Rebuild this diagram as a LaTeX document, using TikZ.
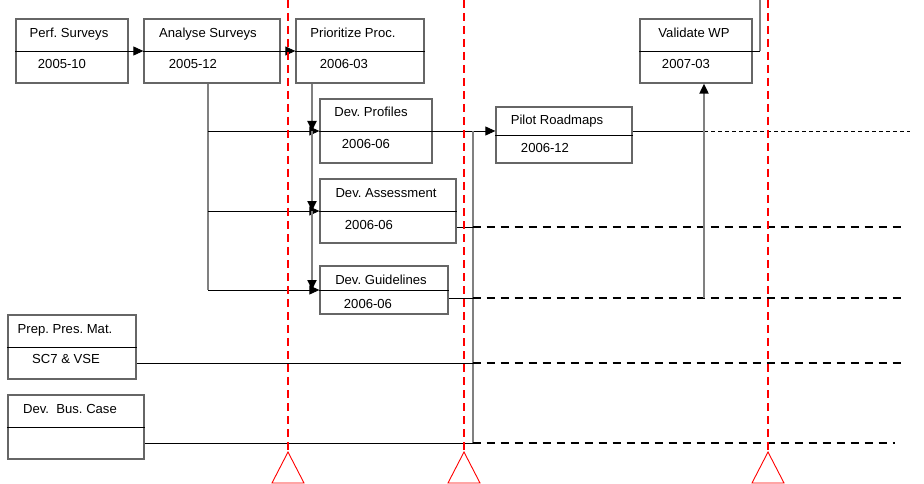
\documentclass[tikz,border=0pt]{standalone}
\usepackage{fontspec}
\setmainfont{Liberation Sans}
\usetikzlibrary{arrows.meta,calc}
\frenchspacing

\tikzset{
  box/.style={draw=black!60, line width=1.3pt, inner sep=0pt},
  lbl/.style={anchor=base, inner sep=0pt, font=\fontsize{13.1}{15}\selectfont},
  link/.style={black, line width=0.9pt},
  stem/.style={draw=black!50, line width=2pt},
  arr/.style={-{Triangle[length=10pt,width=9pt,color=black]}},
  ddash/.style={black, line width=1.8pt, dash pattern=on 8pt off 6pt},
  fdash/.style={black, line width=0.9pt, dash pattern=on 4pt off 3pt},
  milestone/.style={red, line width=1.8pt, dash pattern=on 8pt off 5pt},
  flag/.style={red, line width=0.9pt},
}

\begin{document}
\begin{tikzpicture}[x=1pt,y=-1pt]
\useasboundingbox (0,0) rectangle (924,484);

\node[box, minimum width=112, minimum height=64] (perf) at (72,51) {};
\node[box, minimum width=136, minimum height=64] (analyse) at (212,51) {};
\node[box, minimum width=128, minimum height=64] (prio) at (360,51) {};
\node[box, minimum width=112, minimum height=64] (prof) at (376,131) {};
\node[box, minimum width=136, minimum height=56] (pilot) at (564,135) {};
\node[box, minimum width=112, minimum height=64] (valid) at (696,51) {};
\node[box, minimum width=136, minimum height=64] (assess) at (388,211) {};
\node[box, minimum width=128, minimum height=48] (guide) at (384,290) {};
\node[box, minimum width=128, minimum height=64] (prep) at (72,347) {};
\node[box, minimum width=136, minimum height=64] (bus) at (76,427) {};

\draw[link] (perf.west) -- (perf.east);
\draw[link] (analyse.west) -- (analyse.east);
\draw[link] (prio.west) -- (prio.east);
\draw[link] (prof.west) -- (prof.east);
\draw[link] (pilot.west) -- (pilot.east);
\draw[link] (valid.west) -- (valid.east);
\draw[link] (assess.west) -- (assess.east);
\draw[link] (guide.west) -- (guide.east);
\draw[link] (prep.west) -- (prep.east);
\draw[link] (bus.west) -- (bus.east);

\node[lbl] (perfname) at (69,38) {Perf. Surveys};
\node[lbl] (perfdate) at (62,69) {2005-10};
\node[lbl] (analysename) at (208,38) {Analyse Surveys};
\node[lbl] (analysedate) at (193,69) {2005-12};
\node[lbl] (prioname) at (353,38) {Prioritize Proc.};
\node[lbl] (priodate) at (344,69) {2006-03};
\node[lbl] (profname) at (371,117) {Dev. Profiles};
\node[lbl] (profdate) at (366,149) {2006-06};
\node[lbl] (pilotname) at (557,125) {Pilot Roadmaps};
\node[lbl] (pilotdate) at (545,153) {2006-12};
\node[lbl] (validname) at (694,38) {Validate WP};
\node[lbl] (validdate) at (686,69) {2007-03};
\node[lbl] (assessname) at (386,197) {Dev. Assessment};
\node[lbl] (assessdate) at (369,229) {2006-06};
\node[lbl] (guidename) at (381,284) {Dev. Guidelines};
\node[lbl] (guidedate) at (368,308) {2006-06};
\node[lbl] (prepname) at (65,333) {Prep. Pres. Mat.};
\node[lbl] (prepdate) at (66,363) {SC7 \& VSE};
\node[lbl] (busname) at (70,413) {Dev.\ \ Bus. Case};

\draw[link, arr] (perf.east) -- (analyse.west);
\draw[link, arr] (analyse.east) -- (prio.west);

\path (analyse.south) ++(-4,0) coordinate (aTop);
\path (prio.south) ++(-48,0) coordinate (pTop);
\draw[stem] (aTop) -- (aTop |- guide.west);
\draw[link, arr] (aTop |- prof.west) -- (prof.west);
\draw[link, arr] (aTop |- assess.west) -- (assess.west);
\draw[link, arr] (aTop |- guide.west) -- (guide.west);
\draw[stem, arr] (pTop) -- (pTop |- prof.west);
\draw[stem, arr] (pTop |- prof.west) -- (pTop |- assess.west);
\draw[stem, arr] (pTop |- assess.west) -- (pTop |- guide.west);

\draw[link, arr] (prof.east) -- (prof.east -| pilot.west);

\coordinate (assessout) at ($(assess.east)!0.5!(assess.south east)$);
\coordinate (guideout) at ($(guide.east)!0.33!(guide.south east)$);
\coordinate (prepout) at ($(prep.east)!0.5!(prep.south east)$);
\coordinate (busout) at ($(bus.east)!0.5!(bus.south east)$);
\path (prof.east) ++(40,0) coordinate (hub);
\coordinate (rEnd) at (905,0);
\coordinate (bEnd) at (895,0);
\coordinate (pEnd) at (910,0);

\draw[stem] (hub) -- (hub |- busout);
\draw[link] (assessout) -- (hub |- assessout);
\draw[ddash] (hub |- assessout) -- (rEnd |- assessout);
\draw[link] (guideout) -- (hub |- guideout);
\draw[ddash] (hub |- guideout) -- (rEnd |- guideout);
\draw[link] (prepout) -- (hub |- prepout);
\draw[ddash] (hub |- prepout) -- (rEnd |- prepout);
\draw[link] (busout) -- (hub |- busout);
\draw[ddash] (hub |- busout) -- (bEnd |- busout);

\coordinate (pilotout) at (prof.east -| pilot.east);
\path (valid.south |- guideout) ++(8,0) coordinate (vLow);
\draw[link] (pilotout) -- (vLow |- pilotout);
\draw[fdash] (vLow |- pilotout) -- (pEnd |- pilotout);
\draw[stem, arr] (vLow) -- (vLow |- valid.south);

\coordinate (vTop) at (760,0);
\draw[stem] (vTop) -- (vTop |- valid.east);
\draw[link] (vTop |- valid.east) -- (valid.east);

\coordinate (ms1) at (288,452);
\coordinate (ms2) at (464,452);
\coordinate (ms3) at (768,452);
\draw[milestone] (ms1 |- vTop) -- (ms1);
\draw[milestone] (ms2 |- vTop) -- (ms2);
\draw[milestone] (ms3 |- vTop) -- (ms3);
\draw[flag] (ms1) -- ++(-16,31) -- ++(32,0) -- cycle;
\draw[flag] (ms2) -- ++(-16,31) -- ++(32,0) -- cycle;
\draw[flag] (ms3) -- ++(-16,31) -- ++(32,0) -- cycle;

\end{tikzpicture}
\end{document}
